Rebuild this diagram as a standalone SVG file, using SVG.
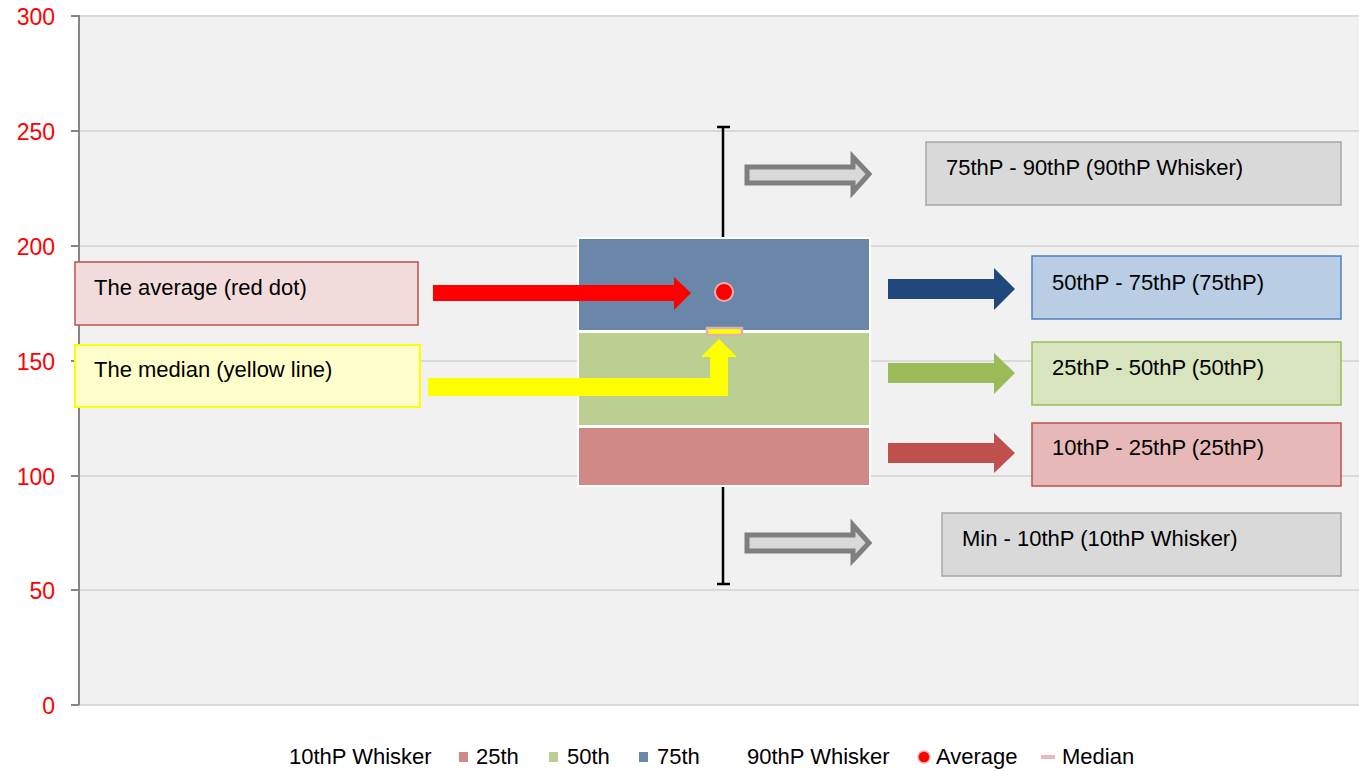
<svg xmlns="http://www.w3.org/2000/svg" width="1359" height="771" viewBox="0 0 1359 771">
<style>
.ax{font-family:"Liberation Sans",Arial,sans-serif;font-size:23px;fill:#ff0000;text-anchor:end}
.t{font-family:"Liberation Sans",Arial,sans-serif;font-size:22px;fill:#000}
.grid{stroke:#d9d9d9;stroke-width:2}
.tick{stroke:#868686;stroke-width:2}
.wh{stroke:#000;stroke-width:2.5}
.seg{stroke:#fff;stroke-width:2}
.garrow{fill:#d9d9d9;stroke:#7f7f7f;stroke-width:5;stroke-linejoin:miter}
</style>
<rect width="1359" height="771" fill="#fff"/>
<g id="plot">
<rect x="79" y="16" width="1280" height="689" fill="#f1f1f1"/>
<line class="grid" x1="79" y1="16" x2="1359" y2="16"/>
<line class="grid" x1="79" y1="131" x2="1359" y2="131"/>
<line class="grid" x1="79" y1="246" x2="1359" y2="246"/>
<line class="grid" x1="79" y1="361" x2="1359" y2="361"/>
<line class="grid" x1="79" y1="476" x2="1359" y2="476"/>
<line class="grid" x1="79" y1="590" x2="1359" y2="590"/>
<line class="grid" x1="79" y1="705" x2="1359" y2="705"/>
<line class="tick" x1="79" y1="15" x2="79" y2="705"/>
<line class="tick" x1="71" y1="16" x2="79" y2="16"/>
<line class="tick" x1="71" y1="131" x2="79" y2="131"/>
<line class="tick" x1="71" y1="246" x2="79" y2="246"/>
<line class="tick" x1="71" y1="361" x2="79" y2="361"/>
<line class="tick" x1="71" y1="476" x2="79" y2="476"/>
<line class="tick" x1="71" y1="590" x2="79" y2="590"/>
<line class="tick" x1="71" y1="705" x2="79" y2="705"/>
<text class="ax" x="55" y="25">300</text>
<text class="ax" x="55" y="140">250</text>
<text class="ax" x="55" y="255">200</text>
<text class="ax" x="55" y="370">150</text>
<text class="ax" x="55" y="485">100</text>
<text class="ax" x="55" y="599">50</text>
<text class="ax" x="55" y="714">0</text>
</g>
<g id="boxplot">
<line class="wh" x1="723" y1="127" x2="723" y2="238"/>
<line class="wh" x1="717" y1="127" x2="730" y2="127"/>
<line class="wh" x1="723" y1="486" x2="723" y2="584"/>
<line class="wh" x1="717" y1="584" x2="730" y2="584"/>
<rect class="seg" x="578" y="238" width="292" height="93" fill="#6a86a8"/>
<rect class="seg" x="578" y="332" width="292" height="94" fill="#bccf92"/>
<rect class="seg" x="578" y="427" width="292" height="59" fill="#d18986"/>
<circle cx="724" cy="292" r="9" fill="#ff0000" stroke="#e6b0ad" stroke-width="2"/>
<rect x="707" y="328" width="35" height="7" fill="#ffff00" stroke="#d9b3b3" stroke-width="2.5"/>
</g>
<g id="connectors">
<polygon points="433,285 674,285 674,277 691,293 674,310 674,301 433,301" fill="#ff0000"/>
<polygon points="428,378 710,378 710,357 701,357 719,339 737,357 728,357 728,396 428,396" fill="#ffff00"/>
<polygon class="garrow" points="747,167 853,167 853,157 869,174 853,192 853,183 747,183"/>
<polygon class="garrow" points="747,535 853,535 853,525 869,543 853,560 853,551 747,551"/>
<polygon points="888,279 994,279 994,268 1015,289 994,310 994,299 888,299" fill="#1f497d"/>
<polygon points="888,363 994,363 994,353 1015,373 994,394 994,383 888,383" fill="#9bbb59"/>
<polygon points="888,443 994,443 994,433 1015,453 994,473 994,463 888,463" fill="#c0504d"/>
</g>
<g id="avg-label">
<rect x="75" y="262" width="343" height="63" fill="#f2dcdb" stroke="#c0504d" stroke-width="1.5"/>
<text class="t" x="94" y="295">The average (red dot)</text>
</g>
<g id="median-label">
<rect x="75" y="345" width="345" height="62" fill="#ffffcc" stroke="#ffff00" stroke-width="2"/>
<text class="t" x="94" y="377">The median (yellow line)</text>
</g>
<g id="p90-label">
<rect x="926" y="142" width="415" height="63" fill="#d9d9d9" stroke="#a6a6a6" stroke-width="1.5"/>
<text class="t" x="946" y="175">75thP - 90thP (90thP Whisker)</text>
</g>
<g id="p75-label">
<rect x="1032" y="256" width="309" height="63" fill="#b9cde5" stroke="#4f81bd" stroke-width="1.5"/>
<text class="t" x="1052" y="290">50thP - 75thP (75thP)</text>
</g>
<g id="p50-label">
<rect x="1032" y="342" width="309" height="63" fill="#d7e4bd" stroke="#9bbb59" stroke-width="1.5"/>
<text class="t" x="1052" y="375">25thP - 50thP (50thP)</text>
</g>
<g id="p25-label">
<rect x="1032" y="423" width="309" height="63" fill="#e6b9b8" stroke="#c0504d" stroke-width="1.5"/>
<text class="t" x="1052" y="455">10thP - 25thP (25thP)</text>
</g>
<g id="p10-label">
<rect x="942" y="513" width="399" height="63" fill="#d9d9d9" stroke="#a6a6a6" stroke-width="1.5"/>
<text class="t" x="962" y="546">Min - 10thP (10thP Whisker)</text>
</g>
<g id="legend">
<text class="t" x="289" y="764">10thP Whisker</text>
<rect x="459" y="752" width="9" height="10" fill="#d18986"/>
<text class="t" x="476" y="764">25th</text>
<rect x="549" y="752" width="9" height="10" fill="#bccf92"/>
<text class="t" x="567" y="764">50th</text>
<rect x="639" y="752" width="9" height="10" fill="#6a86a8"/>
<text class="t" x="657" y="764">75th</text>
<rect x="729" y="752" width="9" height="10" fill="#ffffff"/>
<text class="t" x="747" y="764">90thP Whisker</text>
<circle cx="924" cy="757" r="6" fill="#ff0000" stroke="#e6b0ad" stroke-width="1.5"/>
<text class="t" x="936" y="764">Average</text>
<rect x="1041" y="755" width="14" height="4" fill="#e6b9b8"/>
<text class="t" x="1062" y="764">Median</text>
</g>
</svg>
